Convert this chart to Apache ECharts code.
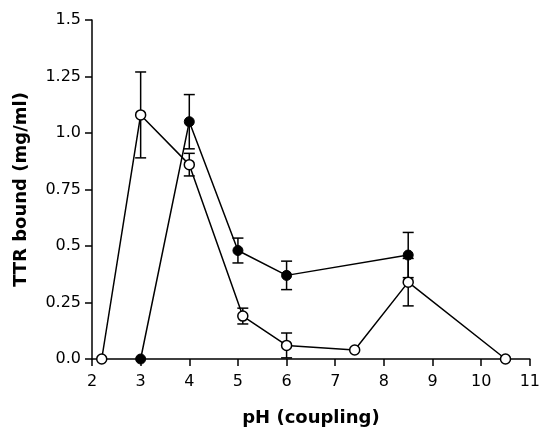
<!DOCTYPE html>
<html>
<head>
<meta charset="utf-8">
<script src="https://cdn.jsdelivr.net/npm/echarts@6/dist/echarts.min.js"></script>
<style>
  html, body { margin: 0; padding: 0; background: #fff; }
  #chart { width: 543px; height: 432px; }
</style>
</head>
<body>
<div id="chart"></div>
<script>
// open circles: [pH, value, error]
var openPoints = [
  [2.2, 0.0, 0],
  [3.0, 1.08, 0.19],
  [4.0, 0.86, 0.05],
  [5.1, 0.19, 0.035],
  [6.0, 0.06, 0.055],
  [7.4, 0.04, 0],
  [8.5, 0.34, 0.105],
  [10.5, 0.0, 0]
]
// filled circles
var filledPoints = [
  [3.0, 0.0, 0],
  [4.0, 1.05, 0.12],
  [5.0, 0.48, 0.055],
  [6.0, 0.37, 0.063],
  [8.5, 0.46, 0.10]
]
var yTickLabels = { '0': '0.0', '0.25': '0.25', '0.5': '0.5', '0.75': '0.75', '1': '1.0', '1.25': '1.25', '1.5': '1.5' }

var fontFam = '"DejaVu Sans", sans-serif'

function errorBars(points) {
  return points.filter(function (p) { return p[2] > 0 }).map(function (p) {
    return [p[0], p[1] - p[2], p[1] + p[2]]
  })
}

function renderError(params, api) {
  var x = api.value(0)
  var lo = api.coord([x, api.value(1)])
  var hi = api.coord([x, api.value(2)])
  var w = 5.5
  var style = { stroke: '#000', lineWidth: 1.5 }
  return {
    type: 'group',
    children: [
      { type: 'line', shape: { x1: lo[0], y1: lo[1], x2: hi[0], y2: hi[1] }, style: style },
      { type: 'line', shape: { x1: lo[0] - w, y1: lo[1], x2: lo[0] + w, y2: lo[1] }, style: style },
      { type: 'line', shape: { x1: hi[0] - w, y1: hi[1], x2: hi[0] + w, y2: hi[1] }, style: style }
    ]
  }
}

var chart = echarts.init(document.getElementById('chart'))
var option = {
  animation: false,
  grid: { left: 92, right: 10, top: 20, bottom: 72 },
  xAxis: {
    type: 'value', min: 2, max: 11, interval: 1,
    name: 'pH (coupling)', nameLocation: 'middle', nameGap: 50,
    nameTextStyle: { fontFamily: fontFam, fontSize: 18, fontWeight: 'bold', color: '#000' },
    axisLine: { onZero: false, lineStyle: { color: '#000', width: 1.5 } },
    axisTick: { length: 7, lineStyle: { color: '#000', width: 1.5 } },
    axisLabel: { fontFamily: fontFam, fontSize: 16, color: '#000', margin: 15 },
    splitLine: { show: false }
  },
  yAxis: {
    type: 'value', min: 0, max: 1.5, interval: 0.25,
    name: 'TTR bound (mg/ml)', nameLocation: 'middle', nameGap: 62,
    nameTextStyle: { fontFamily: fontFam, fontSize: 18, fontWeight: 'bold', color: '#000' },
    axisLine: { show: true, lineStyle: { color: '#000', width: 1.5 } },
    axisTick: { show: true, length: 7, lineStyle: { color: '#000', width: 1.5 } },
    axisLabel: {
      fontFamily: fontFam, fontSize: 16, color: '#000', margin: 11,
      formatter: function (v) { return yTickLabels[String(v)] || String(v) }
    },
    splitLine: { show: false }
  },
  series: [
    {
      type: 'custom', renderItem: renderError, data: errorBars(openPoints),
      encode: { x: 0, y: [1, 2] }, z: 1, silent: true
    },
    {
      type: 'custom', renderItem: renderError, data: errorBars(filledPoints),
      encode: { x: 0, y: [1, 2] }, z: 1, silent: true
    },
    {
      type: 'line', data: filledPoints.map(function (p) { return [p[0], p[1]] }),
      symbol: 'circle', symbolSize: 10, showAllSymbol: true, z: 3,
      lineStyle: { color: '#000', width: 1.5 },
      itemStyle: { color: '#000', borderColor: '#000', borderWidth: 1 }
    },
    {
      type: 'line', data: openPoints.map(function (p) { return [p[0], p[1]] }),
      symbol: 'circle', symbolSize: 10, showAllSymbol: true, z: 4,
      lineStyle: { color: '#000', width: 1.5 },
      itemStyle: { color: '#fff', borderColor: '#000', borderWidth: 1.5 }
    }
  ]
}
chart.setOption(option)
</script>
</body>
</html>
